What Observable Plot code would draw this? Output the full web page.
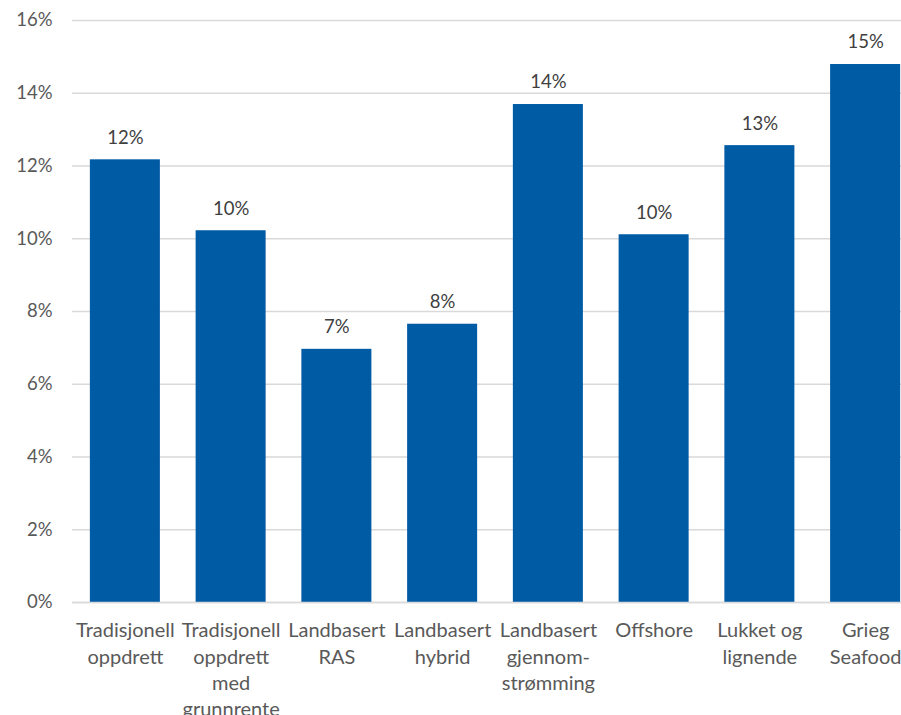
<!DOCTYPE html>
<html>
<head>
<meta charset="utf-8">
<script src="https://cdn.jsdelivr.net/npm/d3@7"></script>
<script src="https://cdn.jsdelivr.net/npm/@observablehq/plot@0.6"></script>
<style>
  html, body { margin: 0; padding: 0; background: #fff; }
  #chart svg { display: block; }
</style>
</head>
<body>
<div id="chart"></div>
<script>
const categories = ["Tradisjonell oppdrett", "Tradisjonell oppdrett med grunnrente", "Landbasert RAS", "Landbasert hybrid", "Landbasert gjennomstrømming", "Offshore", "Lukket og lignende", "Grieg Seafood"];
const values = [12.17, 10.22, 6.96, 7.65, 13.69, 10.11, 12.56, 14.79];
const tickLabels = ["Tradisjonell\noppdrett", "Tradisjonell\noppdrett\nmed\ngrunnrente", "Landbasert\nRAS", "Landbasert\nhybrid", "Landbasert\ngjennom-\nstrømming", "Offshore", "Lukket og\nlignende", "Grieg\nSeafood"];
const yTicks = [0, 2, 4, 6, 8, 10, 12, 14, 16];

const data = categories.map((c, i) => ({category: c, value: values[i], label: tickLabels[i]}));
const labelOf = new Map(data.map(d => [d.category, d.label]));

const chart = Plot.plot({
  width: 901,
  height: 715,
  marginTop: 20,
  marginBottom: 113,
  marginLeft: 72,
  marginRight: -17,
  style: {fontFamily: "Lato", fontSize: "18px", background: "#fff"},
  x: {domain: categories, range: [72, 918], paddingInner: 0.338, paddingOuter: 0.169, round: false, axis: null, label: null},
  y: {domain: [0, 16], axis: null, label: null},
  marks: [
    Plot.gridY(yTicks, {stroke: "#d9d9d9", strokeOpacity: 1, strokeWidth: 1.3}),
    Plot.barY(data, {x: "category", y: "value", fill: "#005ba5"}),
    Plot.ruleY([0], {stroke: "#d9d9d9", strokeWidth: 1.5}),
    Plot.text(data, {x: "category", y: "value", text: d => Math.round(d.value) + "%", dy: -22, fill: "#404040", fontSize: 18.5}),
    Plot.axisY(yTicks, {tickSize: 0, tickPadding: 20, tickFormat: d => d + "%", fill: "#595959", fontSize: 18.5, label: null}),
    Plot.axisX({tickSize: 0, tickPadding: 16, tickFormat: d => labelOf.get(d), fill: "#595959", fontSize: 20, lineHeight: 1.32, label: null})
  ]
});
document.getElementById("chart").append(chart);
</script>
</body>
</html>
